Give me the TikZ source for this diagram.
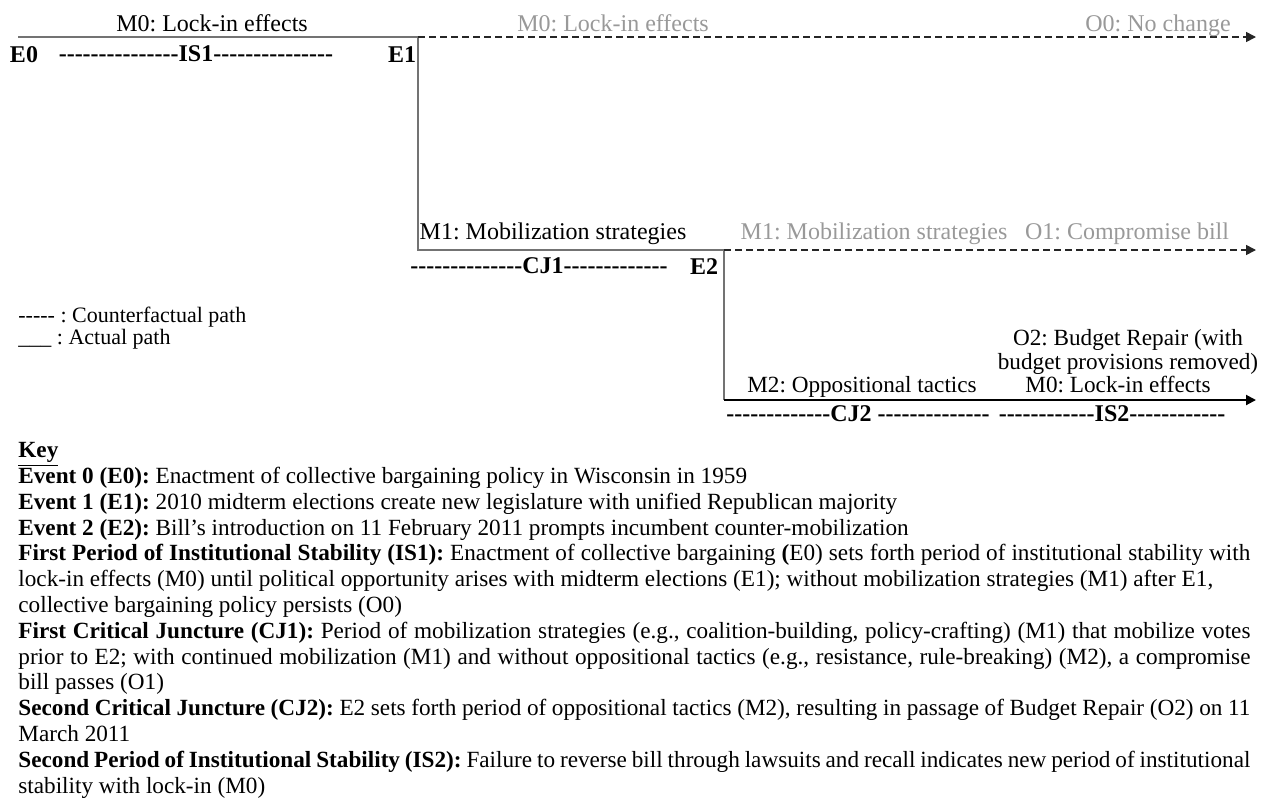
\documentclass[tikz,border=0pt]{standalone}
\usepackage{fontspec}
\setmainfont{Liberation Serif}[Ligatures=TeXOff]
\usetikzlibrary{arrows.meta}
\frenchspacing
% one justified line of the key
\newcommand\jline[1]{\hbox to 616pt{#1}}

\begin{document}
\begin{tikzpicture}[
  x=0.5pt, y=-0.5pt,
  font=\fontsize{12}{14}\selectfont,
  txt/.style={inner sep=0pt, anchor=base},
  small/.style={txt, font=\fontsize{11.6}{12}\selectfont},
  ghost/.style={txt, text=black!40},
  evt/.style={txt, font=\fontsize{12}{14}\selectfont\bfseries},
  actual/.style={draw=black!55, line width=0.8pt},
  tip/.style={-{Triangle[length=5pt,width=5pt]}},
  counter/.style={draw=black!85, line width=0.8pt, dash pattern=on 3.5pt off 2pt, tip}
]
\useasboundingbox (0,0) rectangle (1268,804);
% turning points of the path
\coordinate (e0) at (18,37);
\coordinate (e1) at (418,37);
\coordinate (e1b) at (418,250);
\coordinate (e2) at (724,250);
\coordinate (e2b) at (724,400);
\coordinate (o0) at (1256,37);
\coordinate (o1) at (1256,250);
\coordinate (o2) at (1256,400);
% actual and counterfactual paths
\draw[actual] (e0) -- (e1) -- (e1b) -- (e2) -- (e2b);
\draw[actual, draw=black, line width=1pt, tip] (e2b) -- (o2);
\draw[counter] (e1) -- (o0);
\draw[counter] (e2) -- (o1);
% first period
\node[txt] (m0a) at (212,31) {M0: Lock-in effects};
\node[evt] (ev0) at (24,62) {E0};
\node[evt] (is1) at (196,61) {---------------IS1---------------};
\node[evt] (ev1) at (402,62) {E1};
\node[ghost] (m0b) at (613,31) {M0: Lock-in effects};
\node[ghost] (out0) at (1158,31) {O0: No change};
% first critical juncture
\node[txt] (m1a) at (553,239) {M1: Mobilization strategies};
\node[evt] (cj1) at (539,273) {--------------CJ1-------------};
\node[evt] (ev2) at (704,274) {E2};
\node[ghost] (m1b) at (874,239) {M1: Mobilization strategies};
\node[ghost] (out1) at (1127,239) {O1: Compromise bill};
% second critical juncture
\node[small, align=center] (out2) at (1128,369) {O2: Budget Repair (with\\budget provisions removed)};
\node[small] (m2) at (862,392) {M2: Oppositional tactics};
\node[small] (m0c) at (1118,392) {M0: Lock-in effects};
\node[evt] (cj2) at (858,421) {-------------CJ2 --------------};
\node[evt] (is2) at (1112,421) {------------IS2------------};
% legend
\node[txt, anchor=base west, font=\fontsize{11}{13}\selectfont] (leg1) at (18,322) {----- : Counterfactual path};
\node[txt, anchor=base west, font=\fontsize{11}{13}\selectfont] (leg2) at (18,344) {\_\_\_ : Actual path};
% key
\node[inner sep=0pt, anchor=north west, align=left, font=\fontsize{11.6}{12.9}\selectfont] (key) at (18,442)
  {\textbf{\underline{Key}}\\
   \textbf{Event 0 (E0):} Enactment of collective bargaining policy in Wisconsin in 1959\\
   \textbf{Event 1 (E1):} 2010 midterm elections create new legislature with unified Republican majority\\
   \textbf{Event 2 (E2):} Bill’s introduction on 11 February 2011 prompts incumbent counter-mobilization\\
   \jline{\textbf{First Period of Institutional Stability (IS1):} Enactment of collective bargaining \textbf{(}E0) sets forth period of institutional stability with}\\
   lock-in effects (M0) until political opportunity arises with midterm elections (E1); without mobilization strategies (M1) after E1,\\
   collective bargaining policy persists (O0)\\
   \jline{\textbf{First Critical Juncture (CJ1):} Period of mobilization strategies (e.g., coalition-building, policy-crafting) (M1) that mobilize votes}\\
   \jline{prior to E2; with continued mobilization (M1) and without oppositional tactics (e.g., resistance, rule-breaking) (M2), a compromise}\\
   bill passes (O1)\\
   \jline{\textbf{Second Critical Juncture (CJ2):} E2 sets forth period of oppositional tactics (M2), resulting in passage of Budget Repair (O2) on 11}\\
   March 2011\\
   \jline{\textbf{Second Period of Institutional Stability (IS2):} Failure to reverse bill through lawsuits and recall indicates new period of institutional}\\
   stability with lock-in (M0)};
\end{tikzpicture}
\end{document}
